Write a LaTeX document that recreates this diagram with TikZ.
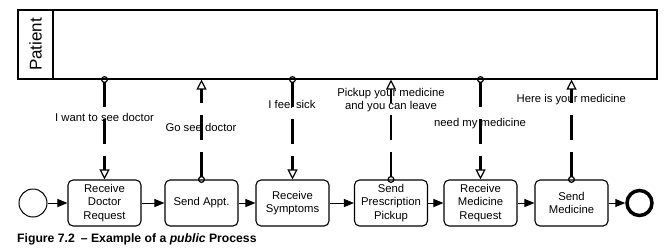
\documentclass[tikz,border=0pt]{standalone}
\usepackage{fontspec}
\setmainfont{Liberation Sans}
\usetikzlibrary{arrows.meta, positioning}

\begin{document}
\begin{tikzpicture}[x=1pt, y=-1pt,
    task/.style={draw, line width=1.1pt, rounded corners=5pt, minimum width=73pt, minimum height=46pt, inner sep=1pt, align=center, font=\fontsize{11.3}{13.5}\selectfont},
    seqflow/.style={line width=1pt, -{Triangle[length=10pt, width=8pt]}},
    msgflow/.style={line width=2.4pt, dash pattern=on 25pt off 12pt, shorten <=-3.5pt,
        {Circle[open, length=7pt, width=7pt, line width'=1.2pt]}-{Triangle[open, length=10pt, width=10pt, line width'=1.2pt]}},
    msglabel/.style={font=\fontsize{11.3}{13.5}\selectfont, align=center, inner sep=0pt}]
    \useasboundingbox (0,0) rectangle (672,250);

    % Pool
    \node[draw, line width=1.1pt, minimum width=639pt, minimum height=69pt, inner sep=0pt] (pool) at (337.5,44.5) {};
    \node[draw, line width=1.1pt, minimum width=35pt, minimum height=69pt, inner sep=0pt, anchor=north west] (lane) at (pool.north west) {};
    \node[rotate=90, font=\fontsize{17}{19}\selectfont] (lanename) at (lane.center) {Patient};

    % Events and tasks
    \node[draw, circle, line width=1pt, minimum size=28pt, inner sep=0pt] (startev) at (33,203) {};
    \node[task] (recvreq) at (104.5,203) {Receive\\Doctor\\Request};
    \node[task] (sendappt) at (201.5,203) {Send Appt.};
    \node[task] (recvsym) at (292.5,203) {Receive\\Symptoms};
    \node[task] (sendpick) at (391,203) {Send\\Prescription\\Pickup};
    \node[task] (recvmed) at (480.5,203) {Receive\\Medicine\\Request};
    \node[task] (sendmed) at (571.5,203) {Send\\Medicine};
    \node[draw, circle, line width=3.5pt, minimum size=25pt, inner sep=0pt] (endev) at (639.5,203) {};

    % Sequence flow
    \draw[seqflow] (startev) -- (recvreq);
    \draw[seqflow] (recvreq) -- (sendappt);
    \draw[seqflow] (sendappt) -- (recvsym);
    \draw[seqflow] (recvsym) -- (sendpick);
    \draw[seqflow] (sendpick) -- (recvmed);
    \draw[seqflow] (recvmed) -- (sendmed);
    \draw[seqflow] (sendmed) -- (endev);

    % Messages
    \draw[msgflow] (recvreq.north |- pool.south) -- (recvreq.north);
    \draw[msgflow] (sendappt.north) -- (sendappt.north |- pool.south);
    \draw[msgflow] (recvsym.north |- pool.south) -- (recvsym.north);
    \draw[msgflow] (sendpick.north) -- (sendpick.north |- pool.south);
    \draw[msgflow] (recvmed.north |- pool.south) -- (recvmed.north);
    \draw[msgflow] (sendmed.north) -- (sendmed.north |- pool.south);

    \node[msglabel] (want) at (104.5,117.3) {I want to see doctor};
    \node[msglabel] (gosee) at (201,127.3) {Go see doctor};
    \node[msglabel] (sick) at (292,104) {I feel sick};
    \node[msglabel] (pickup) at (391,100) {Pickup your medicine\\and you can leave};
    \node[msglabel] (needmed) at (480,124) {need my medicine};
    \node[msglabel] (hereis) at (571.3,100) {Here is your medicine};

    % Caption
    \node[anchor=west, inner sep=0pt, font=\fontsize{12.2}{14}\selectfont\bfseries] (caption) at (17,239) {Figure 7.2\enspace– Example of a \textit{public} Process};
\end{tikzpicture}
\end{document}
